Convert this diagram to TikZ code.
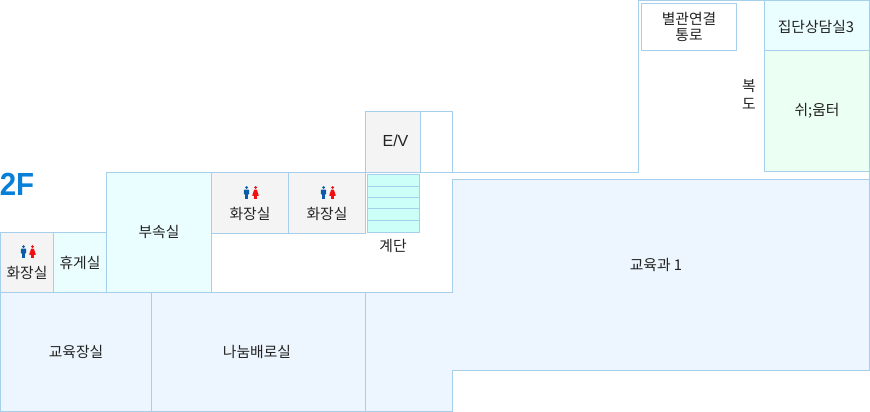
\documentclass[tikz,border=0pt]{standalone}
\usepackage{fontspec}
\setmainfont{Noto Sans CJK KR}
\newfontfamily\latinf{Liberation Sans}
\definecolor{bd}{HTML}{A5CFEB}
\definecolor{grayroom}{HTML}{F4F4F4}
\definecolor{cyanroom}{HTML}{EBFEFF}
\definecolor{greenroom}{HTML}{EBFFF3}
\definecolor{blueroom}{HTML}{EDF5FE}
\definecolor{stairc}{HTML}{CCFFF8}
\definecolor{txt}{HTML}{222222}
\definecolor{manc}{HTML}{0A5CA8}
\definecolor{womanc}{HTML}{F20F0F}
\definecolor{floorc}{HTML}{0A7FD6}
\tikzset{
  x=1pt,y=-1pt,
  room/.style={draw=bd,line width=1pt},
  lbl/.style={font=\fontsize{14.8}{17}\selectfont,text=txt,inner sep=0pt,align=center},
  man/.pic={\fill[manc] (0,-5) circle (1.5);
    \fill[manc,rounded corners=.8] (-2.6,-3) rectangle (2.6,2);
    \fill[manc] (-1.7,1) rectangle (1.7,6.6);},
  woman/.pic={\fill[womanc] (0,-5) circle (1.5);
    \fill[womanc,rounded corners=.5] (-1.3,-3) -- (1.3,-3) -- (3.4,3.4) -- (-3.4,3.4) -- cycle;
    \fill[womanc] (-1.6,3) rectangle (1.6,6.6);}
}
\begin{document}
\begin{tikzpicture}
\useasboundingbox (0,0) rectangle (870,412);
% corridor outline
\draw[room] (106.5,172.5) -- (638.5,172.5) -- (638.5,0.5) -- (869.5,0.5) -- (869.5,179.5);
% education room polygon
\draw[room,fill=blueroom] (452.5,179.5) -- (869.5,179.5) -- (869.5,370.5) -- (452.5,370.5) -- (452.5,411.5) -- (365.5,411.5) -- (365.5,292.5) -- (452.5,292.5) -- cycle;
\draw[room,fill=blueroom] (0.5,292.5) rectangle (151.5,411.5);
\draw[room,fill=blueroom] (151.5,292.5) rectangle (365.5,411.5);
\draw[room,fill=grayroom] (0.5,232.5) rectangle (53.5,292.5);
\draw[room,fill=cyanroom] (53.5,232.5) rectangle (106.5,292.5);
\draw[room,fill=cyanroom] (106.5,172.5) rectangle (211.5,292.5);
\draw[room,fill=grayroom] (211.5,172.5) rectangle (288.5,233.5);
\draw[room,fill=grayroom] (288.5,172.5) rectangle (365.5,233.5);
\draw[room,fill=grayroom] (365.5,111.5) rectangle (420.5,172.5);
\draw[room] (420.5,111.5) rectangle (452.5,172.5);
\draw[room] (211.5,292.5) -- (452.5,292.5);
\draw[room] (641.5,3.5) rectangle (736.5,50.5);
\draw[room,fill=cyanroom] (764.5,0.5) rectangle (869.5,50.5);
\draw[room,fill=greenroom] (764.5,50.5) rectangle (869.5,171.5);
% stairs
\draw[room,fill=stairc] (367.5,174.5) rectangle (419.5,186.5);
\draw[room,fill=stairc] (367.5,186.5) rectangle (419.5,197.5);
\draw[room,fill=stairc] (367.5,197.5) rectangle (419.5,208.5);
\draw[room,fill=stairc] (367.5,208.5) rectangle (419.5,220.5);
\draw[room,fill=stairc] (367.5,220.5) rectangle (419.5,232.5);
% labels
\node[inner sep=0pt,text=floorc,xscale=.92,font=\latinf\bfseries\fontsize{32}{32}\selectfont] (floor) at (17,184) {2F};
\node[lbl] (wc1) at (27,273) {화장실};
\node[lbl] (rest) at (80,263) {휴게실};
\node[lbl] (annex) at (159,232) {부속실};
\node[lbl] (wc2) at (250,214) {화장실};
\node[lbl] (wc3) at (327,214) {화장실};
\node[lbl,font=\latinf\fontsize{16}{18}\selectfont] (ev) at (395.5,141) {E/V};
\node[lbl] (stairs) at (393,246) {계단};
\node[lbl] (edu1) at (656,265) {교육과 1};
\node[lbl] (eduhall) at (76,352) {교육장실};
\node[lbl] (nanum) at (257,352) {나눔배로실};
\node[lbl] (link) at (689,27) {별관연결\\[-1pt]통로};
\node[lbl] (counsel) at (816,27) {집단상담실3};
\node[lbl] (lounge) at (817,111) {쉬;움터};
\node[lbl] (hall1) at (749,86) {복};
\node[lbl] (hall2) at (749,104) {도};
% icons
\pic at (23.5,251.5) {man}; \pic at (32.5,251.5) {woman};
\pic at (246.5,192.5) {man}; \pic at (255.5,192.5) {woman};
\pic at (323.5,192.5) {man}; \pic at (332.5,192.5) {woman};
\end{tikzpicture}
\end{document}
